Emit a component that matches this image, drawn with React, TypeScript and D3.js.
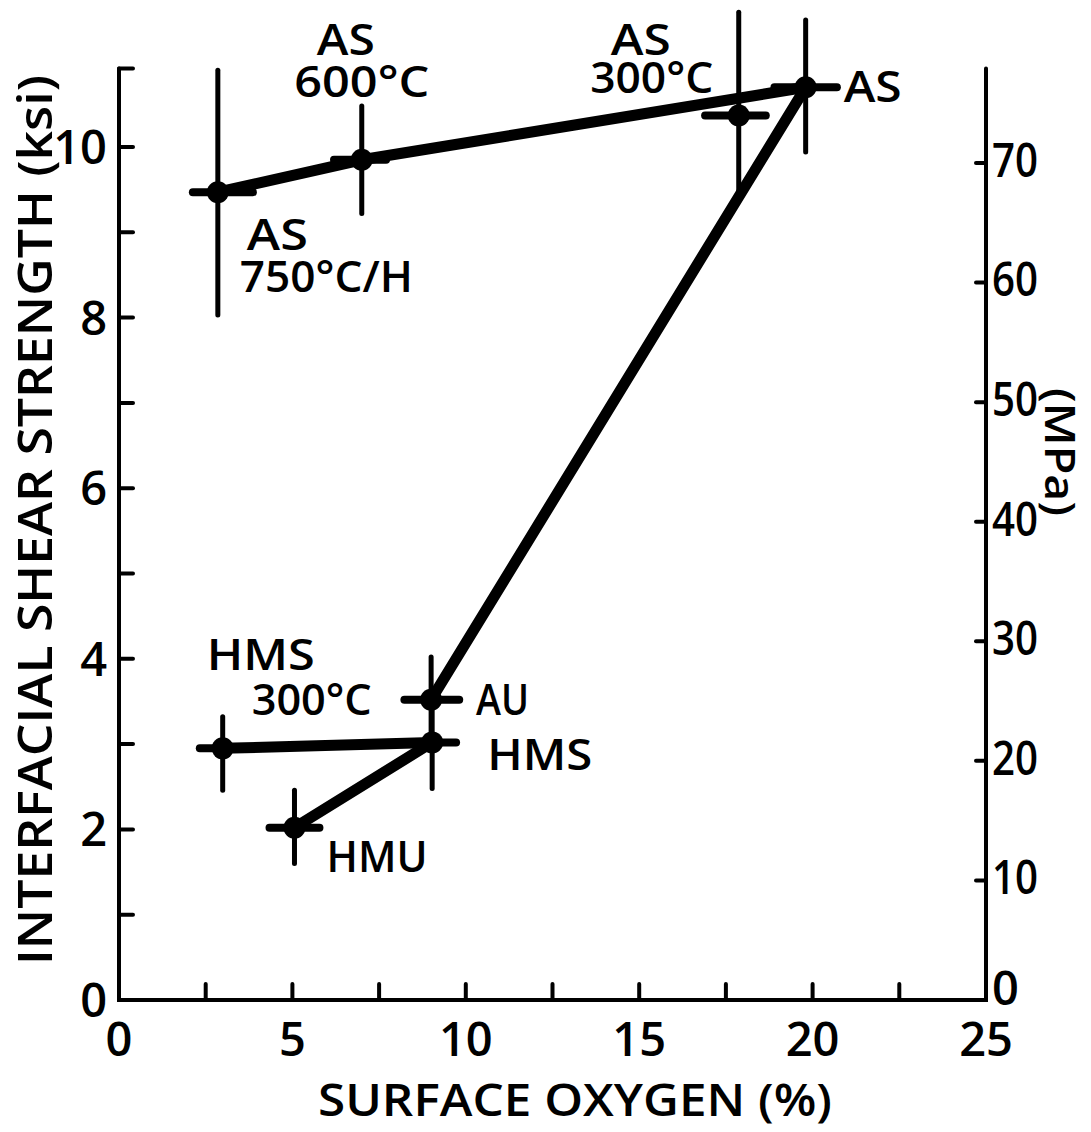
import * as React from "react";
import * as d3 from "d3";

// surface oxygen (%) and interfacial shear strength (ksi) for each fibre
const fibres = ["AS 750°C/H", "AS 600°C", "AS 300°C", "AS", "AU", "HMS", "HMS 300°C", "HMU"];
const oxygen = [2.85, 7.0, 17.87, 19.8, 9.0, 9.03, 2.99, 5.06];
const strength = [9.47, 9.85, 10.37, 10.7, 3.52, 3.02, 2.95, 2.02];
const strengthLow = [8.03, 9.22, 9.4, 9.94, 3.05, 2.48, 2.46, 1.6];
const strengthHigh = [10.9, 10.48, 11.58, 11.49, 4.02, 3.5, 3.32, 2.46];
const oxygenLow = [2.13, 6.2, 16.9, 18.9, 8.23, 8.3, 2.33, 4.34];
const oxygenHigh = [3.86, 7.7, 18.65, 20.7, 9.81, 9.72, 3.7, 5.78];
// which points are joined by the thick lines
const links = [[0, 1], [1, 3], [3, 4], [6, 5], [7, 5]];

const xTicks = [0, 5, 10, 15, 20, 25];
const xMinorTicks = [2.5, 5, 7.5, 10, 12.5, 15, 17.5, 20, 22.5];
const yTicks = [0, 2, 4, 6, 8, 10];
const yMinorTicks = [1, 2, 3, 4, 5, 6, 7, 8, 9, 10, 10.92];
const mpaTicks = [0, 10, 20, 30, 40, 50, 60, 70];

const font = "'Open Sans', 'DejaVu Sans', sans-serif";

export default function App() {
  const x = d3.scaleLinear().domain([0, 25]).range([119, 986]);
  const y = d3.scaleLinear().domain([0, 10]).range([1000, 147]);
  const mpa = d3.scaleLinear().domain([0, 70]).range([1000, 163]);
  const yTop = y(10.92);

  const pt = (i: number) => ({ px: x(oxygen[i]), py: y(strength[i]) });
  const label = (txt: string, tx: number, ty: number, anchor = "start", len?: number) => (
    <text x={tx} y={ty} textAnchor={anchor} fontSize={44} fontWeight={600}
      textLength={len} lengthAdjust="spacingAndGlyphs">{txt}</text>
  );

  const p0 = pt(0), p1 = pt(1), p2 = pt(2), p3 = pt(3), p4 = pt(4), p5 = pt(5), p6 = pt(6), p7 = pt(7);

  return (
    <svg width={1091} height={1132} style={{ position: "absolute", left: 0, top: 0, background: "#fff" }}
      fontFamily={font} fill="#000">
      {/* axes */}
      <g stroke="#000" strokeWidth={4} fill="none" strokeLinecap="round">
        <path d={`M${x(0)},${yTop}V${y(0)}H${x(25)}V${yTop}`} />
        {yMinorTicks.map(t => <line key={"yl" + t} x1={x(0)} x2={x(0) + 14} y1={y(t)} y2={y(t)} />)}
        {xMinorTicks.map(t => <line key={"xt" + t} x1={x(t)} x2={x(t)} y1={y(0)} y2={y(0) - 16} />)}
        {mpaTicks.filter(t => t > 0).map(t => <line key={"mp" + t} x1={x(25)} x2={x(25) - 10} y1={mpa(t)} y2={mpa(t)} />)}
      </g>
      {/* tick labels */}
      <g fontSize={47} fontWeight={600}>
        {yTicks.map(t => <text key={"yv" + t} x={x(0) - 12} y={y(t)} dy="0.36em" textAnchor="end">{t}</text>)}
        {xTicks.map(t => <text key={"xv" + t} x={x(t)} y={y(0) + 56} textAnchor="middle">{t}</text>)}
        {mpaTicks.map(t => (
          <text key={"mv" + t} x={x(25) + 6} y={mpa(t) - (t === 0 ? 12 : 3)} dy="0.36em" textAnchor="start"
            textLength={t === 0 ? undefined : 46} lengthAdjust="spacingAndGlyphs">{t}</text>
        ))}
      </g>
      {/* axis titles */}
      <text x={575} y={1116} textAnchor="middle" fontSize={45} fontWeight={600} textLength={514}
        lengthAdjust="spacingAndGlyphs">SURFACE  OXYGEN (%)</text>
      <text transform={`translate(52,${520}) rotate(-90)`} textAnchor="middle" fontSize={47} fontWeight={600}
        textLength={890} lengthAdjust="spacingAndGlyphs">INTERFACIAL SHEAR STRENGTH (ksi)</text>
      <text transform={`translate(1045,${452}) rotate(90)`} textAnchor="middle" fontSize={42} fontWeight={600}
        textLength={128} lengthAdjust="spacingAndGlyphs">(MPa)</text>

      {/* error bars */}
      <g stroke="#000" strokeWidth={5} strokeLinecap="round">
        {fibres.map((f, i) => (
          <g key={"eb" + f}>
            <line x1={x(oxygen[i])} x2={x(oxygen[i])} y1={y(strengthLow[i])} y2={y(strengthHigh[i])} />
            <line x1={x(oxygenLow[i])} x2={x(oxygenHigh[i])} y1={y(strength[i])} y2={y(strength[i])} strokeWidth={8} />
          </g>
        ))}
      </g>
      {/* connecting lines */}
      <g stroke="#000" strokeWidth={11} strokeLinecap="round">
        {links.map(([a, b]) => (
          <line key={a + "-" + b} x1={x(oxygen[a])} y1={y(strength[a])} x2={x(oxygen[b])} y2={y(strength[b])} />
        ))}
      </g>
      {/* points */}
      {fibres.map((f, i) => <circle key={"pt" + f} cx={x(oxygen[i])} cy={y(strength[i])} r={11} fill="#000" />)}

      {/* point labels */}
      {label("AS", p1.px - 16, p1.py - 105, "middle", 58)}
      {label("600°C", p1.px, p1.py - 63, "middle", 135)}
      {label("AS", p2.px - 98, p2.py - 60, "middle", 60)}
      {label("300°C", p2.px - 87, p2.py - 22, "middle", 123)}
      {label("AS", p3.px + 38, p3.py + 15, "start", 58)}
      {label("AS", p0.px + 29, p0.py + 58, "start", 61)}
      {label("750°C/H", p0.px + 22, p0.py + 100, "start", 173)}
      {label("HMS", p6.px - 16, p6.py - 78, "start", 108)}
      {label("300°C", p6.px + 29, p6.py - 33, "start", 120)}
      {label("AU", p4.px + 45, p4.py + 15, "start", 53)}
      {label("HMS", p5.px + 55, p5.py + 28, "start", 105)}
      {label("HMU", p7.px + 32, p7.py + 44, "start", 101)}
    </svg>
  );
}
